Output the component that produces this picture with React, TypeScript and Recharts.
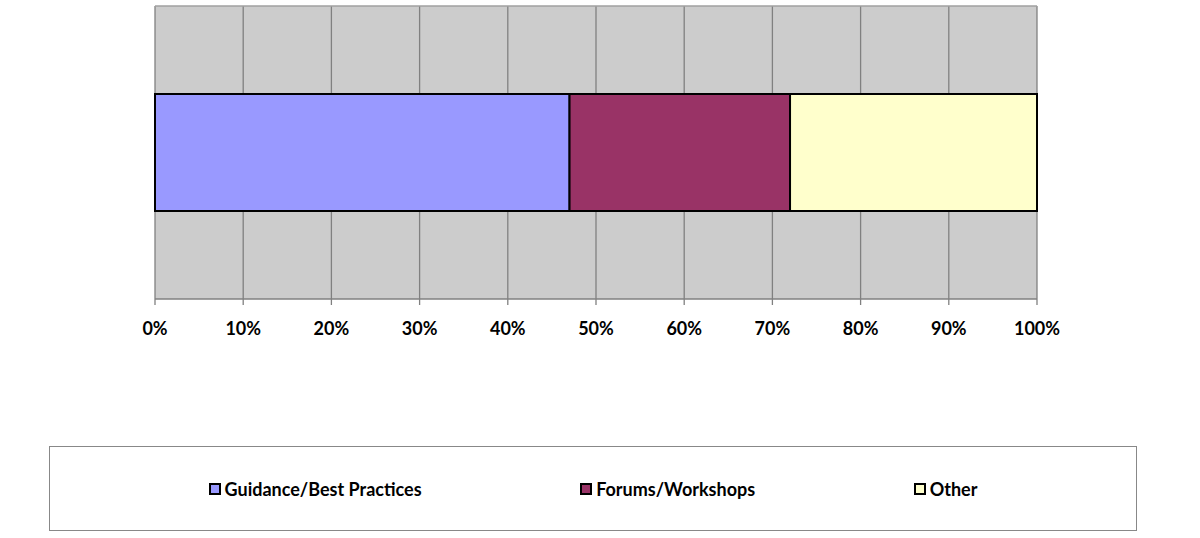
import React from "react";
import { BarChart, Bar, XAxis, YAxis, CartesianGrid, Legend } from "recharts";

const categories = ["Support"];
const guidanceValues = [47];
const forumsValues = [25];
const otherValues = [28];
const tickValues = [0, 10, 20, 30, 40, 50, 60, 70, 80, 90, 100];

const seriesNames = ["Guidance/Best Practices", "Forums/Workshops", "Other"];
const seriesColors = ["#9999FF", "#993366", "#FFFFCC"];

const data = categories.map((c, i) => ({
  name: c,
  guidance: guidanceValues[i],
  forums: forumsValues[i],
  other: otherValues[i],
}));

const FONT = "Lato, 'Open Sans', sans-serif";

const LegendContent = (props: any) => {
  const payload = [...(props.payload || [])].sort(
    (a: any, b: any) => seriesNames.indexOf(a.value) - seriesNames.indexOf(b.value)
  );
  return (
    <div
      style={{
        boxSizing: "border-box",
        width: 1088,
        height: 85,
        border: "1px solid #888888",
        background: "#ffffff",
        display: "flex",
        justifyContent: "space-evenly",
        alignItems: "center",
        fontFamily: FONT,
        fontWeight: 700,
        fontSize: 18,
        color: "#000",
      }}
    >
      {payload.map((p: any) => (
        <div key={p.value} style={{ display: "flex", alignItems: "center" }}>
          <span
            style={{
              display: "inline-block",
              boxSizing: "border-box",
              width: 12,
              height: 12,
              background: p.color,
              border: "2px solid #000",
              marginRight: 4,
            }}
          />
          <span>{p.value}</span>
        </div>
      ))}
    </div>
  );
};

export default function App() {
  return (
    <div style={{ position: "absolute", left: 0, top: 0, width: 1200, height: 538, background: "#fff" }}>
      <BarChart
        width={1200}
        height={538}
        data={data}
        layout="vertical"
        margin={{ top: 6, right: 163, bottom: 124, left: 155 }}
        barCategoryGap="30%"
      >
        <CartesianGrid
          horizontal={false}
          vertical={true}
          fill="#CCCCCC"
          fillOpacity={1}
          stroke="#808080"
          strokeWidth={1.3}
        />
        <CartesianGrid
          horizontal={true}
          vertical={false}
          horizontalCoordinatesGenerator={({ offset }: any) => [offset.top]}
          stroke="#A0A0A0"
          strokeWidth={1.5}
        />
        <XAxis
          type="number"
          domain={[0, 100]}
          ticks={tickValues}
          tickFormatter={(v: number) => `${v}%`}
          height={30}
          interval={0}
          axisLine={{ stroke: "#808080", strokeWidth: 1.5 }}
          tickLine={{ stroke: "#808080", strokeWidth: 1.3 }}
          tickSize={6}
          tickMargin={17}
          tick={{ fill: "#000", fontFamily: FONT, fontWeight: 700, fontSize: 18 }}
        />
        <YAxis type="category" dataKey="name" hide />
        <Bar dataKey="guidance" name={seriesNames[0]} stackId="a" fill={seriesColors[0]} stroke="#000" strokeWidth={2} isAnimationActive={false} />
        <Bar dataKey="forums" name={seriesNames[1]} stackId="a" fill={seriesColors[1]} stroke="#000" strokeWidth={2} isAnimationActive={false} />
        <Bar dataKey="other" name={seriesNames[2]} stackId="a" fill={seriesColors[2]} stroke="#000" strokeWidth={2} isAnimationActive={false} />
        <Legend
          content={<LegendContent />}
          wrapperStyle={{ position: "absolute", left: 49, top: 446, width: 1088, height: 85 }}
        />
      </BarChart>
    </div>
  );
}
